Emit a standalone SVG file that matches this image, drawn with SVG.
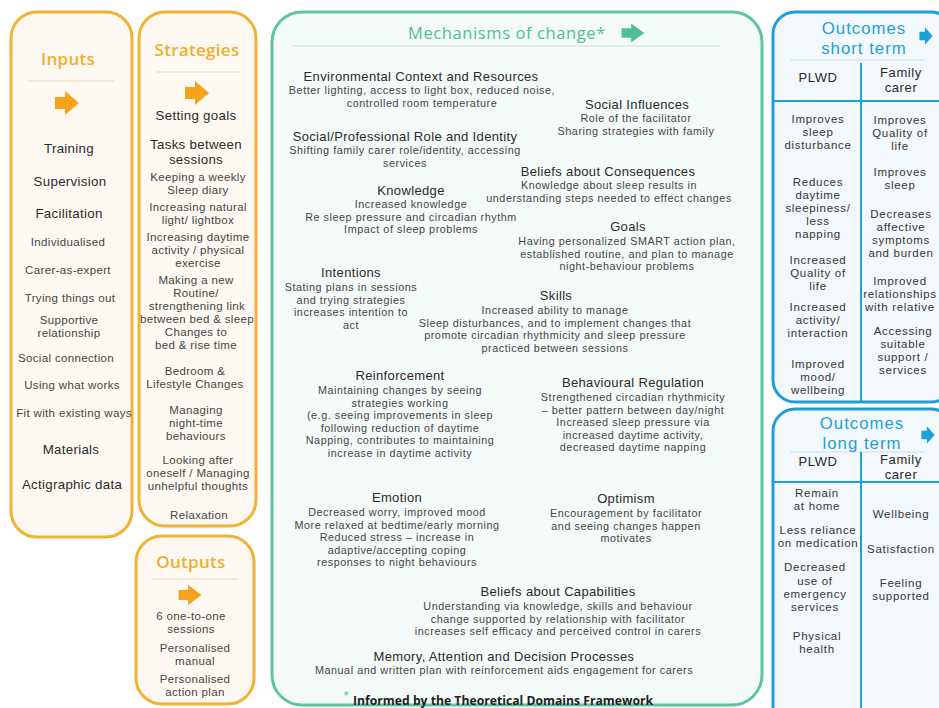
<svg xmlns="http://www.w3.org/2000/svg" width="939" height="708" viewBox="0 0 939 708">
  <defs>
    <!-- block arrow centred on 0,0 -->
    <path id="blockArrow" d="M-12,-6 H-2 V-12 L12,0 L-2,12 V6 H-12 Z"/>
    <style>
      text { font-family: "Liberation Sans", Arial, sans-serif; text-anchor: middle; dominant-baseline: central; }
      .boxO { fill: #FDF9F2; stroke: #F2B233; stroke-width: 3; }
      .boxG { fill: #F4FAF8; stroke: #5EC49F; stroke-width: 3; }
      .boxB { fill: #F2F8FC; stroke: #1E9FD8; stroke-width: 3; }
      .band { stroke-width: 2; fill: none; }
      .ttlO { font-family: "Open Sans", "Liberation Sans", sans-serif; font-size: 17px; font-weight: 600; fill: #F1AE2C; letter-spacing: 0.3px; }
      .ttlG { font-family: "Open Sans", "Liberation Sans", sans-serif; font-size: 16.5px; font-weight: 500; fill: #4FC095; letter-spacing: 0.6px; }
      .ttlB { font-size: 16.8px; fill: #1D9FDA; letter-spacing: 1px; }
      .big { font-size: 13.3px; fill: #2B2B2B; letter-spacing: 0.3px; }
      .sm { font-size: 11.5px; fill: #454545; letter-spacing: 0.35px; }
      .hd { font-size: 13px; fill: #2A2A2A; letter-spacing: 0.35px; }
      .bd { font-size: 10.8px; fill: #454545; letter-spacing: 0.55px; }
      .oc { font-size: 11.5px; fill: #363636; letter-spacing: 0.7px; }
      .ohd { font-size: 13px; fill: #2A2A2A; letter-spacing: 0.6px; }
      .note { font-family: "Open Sans", "Liberation Sans", sans-serif; font-size: 12.2px; font-weight: 700; fill: #1E1E1E; text-anchor: start; }
      .divB { stroke: #1E9FD8; stroke-width: 2; }
    </style>
  </defs>

  <rect width="939" height="708" fill="#FFFFFF"/>

  <!-- Inputs -->
  <g id="inputs">
    <rect class="boxO" x="11" y="12" width="121" height="525" rx="26"/>
    <line class="band" x1="28" y1="81" x2="114" y2="81" stroke="#F1E8D8"/>
    <text class="ttlO" x="68" y="58">Inputs</text>
    <text class="big" x="69" y="148">Training</text>
    <text class="big" x="70" y="181">Supervision</text>
    <text class="big" x="69" y="213">Facilitation</text>
    <text class="sm" x="68" y="242">Individualised</text>
    <text class="sm" x="68" y="270">Carer-as-expert</text>
    <text class="sm" x="70" y="298">Trying things out</text>
    <text class="sm" x="69" y="320">Supportive</text>
    <text class="sm" x="69" y="333">relationship</text>
    <text class="sm" x="66" y="358">Social connection</text>
    <text class="sm" x="72" y="385">Using what works</text>
    <text class="sm" x="74" y="413">Fit with existing ways</text>
    <text class="big" x="71" y="449">Materials</text>
    <text class="big" x="72" y="484">Actigraphic data</text>
  </g>

  <!-- Strategies -->
  <g id="strategies">
    <rect class="boxO" x="139" y="12" width="117" height="514" rx="26"/>
    <line class="band" x1="156" y1="72" x2="240" y2="72" stroke="#F1E8D8"/>
    <text class="ttlO" x="197" y="49">Strategies</text>
    <text class="big" x="196" y="115">Setting goals</text>
    <text class="big" x="196" y="144">Tasks between</text>
    <text class="big" x="196" y="159">sessions</text>
    <text class="sm" x="198" y="177">Keeping a weekly</text>
    <text class="sm" x="198" y="190">Sleep diary</text>
    <text class="sm" x="198" y="207">Increasing natural</text>
    <text class="sm" x="198" y="220">light/ lightbox</text>
    <text class="sm" x="198" y="237">Increasing daytime</text>
    <text class="sm" x="198" y="250">activity / physical</text>
    <text class="sm" x="198" y="263">exercise</text>
    <text class="sm" x="196" y="280">Making a new</text>
    <text class="sm" x="196" y="293">Routine/</text>
    <text class="sm" x="197" y="306">strengthening link</text>
    <text class="sm" x="197" y="319">between bed &amp; sleep</text>
    <text class="sm" x="196" y="332">Changes to</text>
    <text class="sm" x="196" y="345">bed &amp; rise time</text>
    <text class="sm" x="195" y="371">Bedroom &amp;</text>
    <text class="sm" x="195" y="384">Lifestyle Changes</text>
    <text class="sm" x="196" y="410">Managing</text>
    <text class="sm" x="196" y="423">night-time</text>
    <text class="sm" x="196" y="436">behaviours</text>
    <text class="sm" x="198" y="460">Looking after</text>
    <text class="sm" x="198" y="473">oneself / Managing</text>
    <text class="sm" x="198" y="486">unhelpful thoughts</text>
    <text class="sm" x="199" y="515">Relaxation</text>
  </g>

  <!-- Outputs -->
  <g id="outputs">
    <rect class="boxO" x="136" y="536" width="118" height="168" rx="26"/>
    <line class="band" x1="152" y1="579" x2="238" y2="579" stroke="#F1E8D8"/>
    <text class="ttlO" x="191" y="561">Outputs</text>
    <text class="sm" x="191" y="616">6 one-to-one</text>
    <text class="sm" x="191" y="629">sessions</text>
    <text class="sm" x="195" y="648">Personalised</text>
    <text class="sm" x="195" y="661">manual</text>
    <text class="sm" x="195" y="679">Personalised</text>
    <text class="sm" x="195" y="692">action plan</text>
  </g>

  <!-- Mechanisms of change -->
  <g id="mechanisms">
    <rect class="boxG" x="272" y="12" width="490" height="693" rx="30"/>
    <line class="band" x1="292" y1="46" x2="720" y2="46" stroke="#E2EDE9"/>
    <text class="ttlG" x="507" y="32">Mechanisms of change*</text>

    <text class="hd" x="421" y="76">Environmental Context and Resources</text>
    <text class="bd" x="422" y="90">Better lighting, access to light box, reduced noise,</text>
    <text class="bd" x="422" y="102.5">controlled room temperature</text>

    <text class="hd" x="637" y="104">Social Influences</text>
    <text class="bd" x="636" y="118">Role of the facilitator</text>
    <text class="bd" x="636" y="130.5">Sharing strategies with family</text>

    <text class="hd" x="405" y="136">Social/Professional  Role and Identity</text>
    <text class="bd" x="405" y="150">Shifting family carer role/identity, accessing</text>
    <text class="bd" x="405" y="162.5">services</text>

    <text class="hd" x="608" y="171">Beliefs  about Consequences</text>
    <text class="bd" x="609" y="185">Knowledge about sleep results in</text>
    <text class="bd" x="609" y="197.5">understanding  steps needed to effect changes</text>

    <text class="hd" x="411" y="190">Knowledge</text>
    <text class="bd" x="411" y="204">Increased knowledge</text>
    <text class="bd" x="411" y="216.5">Re sleep pressure and  circadian rhythm</text>
    <text class="bd" x="411" y="229">Impact of sleep problems</text>

    <text class="hd" x="628" y="226">Goals</text>
    <text class="bd" x="627" y="241">Having personalized SMART action  plan,</text>
    <text class="bd" x="627" y="253.5">established routine, and  plan to manage</text>
    <text class="bd" x="627" y="266">night-behaviour problems</text>

    <text class="hd" x="351" y="272">Intentions</text>
    <text class="bd" x="351" y="287">Stating plans in sessions</text>
    <text class="bd" x="351" y="299.5">and trying strategies</text>
    <text class="bd" x="351" y="312">increases intention to</text>
    <text class="bd" x="351" y="324.5">act</text>

    <text class="hd" x="556" y="295">Skills</text>
    <text class="bd" x="555" y="310">Increased ability to manage</text>
    <text class="bd" x="555" y="322.5">Sleep disturbances, and to implement changes that</text>
    <text class="bd" x="555" y="335">promote circadian  rhythmicity and  sleep pressure</text>
    <text class="bd" x="555" y="347.5">practiced between sessions</text>

    <text class="hd" x="400" y="375">Reinforcement</text>
    <text class="bd" x="400" y="390">Maintaining changes by seeing</text>
    <text class="bd" x="400" y="402.5">strategies working</text>
    <text class="bd" x="400" y="415">(e.g. seeing improvements in sleep</text>
    <text class="bd" x="400" y="427.5">following reduction of daytime</text>
    <text class="bd" x="400" y="440">Napping, contributes to maintaining</text>
    <text class="bd" x="400" y="452.5">increase in daytime activity</text>

    <text class="hd" x="633" y="382">Behavioural Regulation</text>
    <text class="bd" x="633" y="397">Strengthened circadian  rhythmicity</text>
    <text class="bd" x="633" y="409.5">– better pattern  between day/night</text>
    <text class="bd" x="633" y="422">Increased sleep pressure via</text>
    <text class="bd" x="633" y="434.5">increased daytime activity,</text>
    <text class="bd" x="633" y="447">decreased daytime napping</text>

    <text class="hd" x="397" y="497">Emotion</text>
    <text class="bd" x="397" y="512">Decreased worry, improved mood</text>
    <text class="bd" x="397" y="524.5">More relaxed at bedtime/early morning</text>
    <text class="bd" x="397" y="537">Reduced stress – increase in</text>
    <text class="bd" x="397" y="549.5">adaptive/accepting coping</text>
    <text class="bd" x="397" y="562">responses to night behaviours</text>

    <text class="hd" x="626" y="498">Optimism</text>
    <text class="bd" x="626" y="513">Encouragement by facilitator</text>
    <text class="bd" x="626" y="525.5">and seeing changes happen</text>
    <text class="bd" x="626" y="538">motivates</text>

    <text class="hd" x="558" y="591">Beliefs  about Capabilities</text>
    <text class="bd" x="558" y="606">Understanding via knowledge, skills and behaviour</text>
    <text class="bd" x="558" y="618.5">change supported  by relationship with facilitator</text>
    <text class="bd" x="558" y="631">increases self efficacy and perceived control in carers</text>

    <text class="hd" x="504" y="656">Memory, Attention and Decision Processes</text>
    <text class="bd" x="504" y="670">Manual and written plan with reinforcement aids engagement for carers</text>

    <text x="346" y="695" style="font-size:13px;fill:#4FC095;">*</text>
    <text class="note" x="353" y="700">Informed by the Theoretical Domains Framework</text>
  </g>

  <!-- Outcomes short term -->
  <g id="outcomes-short">
    <rect class="boxB" x="773" y="12" width="180" height="390" rx="22"/>
    <line class="band" x1="790" y1="60" x2="925" y2="60" stroke="#E1ECF2"/>
    <text class="ttlB" x="864" y="28.5">Outcomes</text>
    <text class="ttlB" x="864" y="48">short term</text>
    <line class="divB" x1="861" y1="63" x2="861" y2="402"/>
    <line class="divB" x1="773" y1="101" x2="939" y2="101"/>
    <text class="ohd" x="818" y="77">PLWD</text>
    <text class="ohd" x="901" y="72">Family</text>
    <text class="ohd" x="901" y="87">carer</text>

    <text class="oc" x="818" y="119">Improves</text>
    <text class="oc" x="818" y="132">sleep</text>
    <text class="oc" x="818" y="145">disturbance</text>
    <text class="oc" x="818" y="182">Reduces</text>
    <text class="oc" x="818" y="195">daytime</text>
    <text class="oc" x="818" y="208">sleepiness/</text>
    <text class="oc" x="818" y="221">less</text>
    <text class="oc" x="818" y="234">napping</text>
    <text class="oc" x="818" y="260">Increased</text>
    <text class="oc" x="818" y="273">Quality of</text>
    <text class="oc" x="818" y="286">life</text>
    <text class="oc" x="818" y="307">Increased</text>
    <text class="oc" x="818" y="320">activity/</text>
    <text class="oc" x="818" y="333">interaction</text>
    <text class="oc" x="818" y="364">Improved</text>
    <text class="oc" x="818" y="377">mood/</text>
    <text class="oc" x="818" y="390">wellbeing</text>

    <text class="oc" x="900" y="120">Improves</text>
    <text class="oc" x="900" y="133">Quality of</text>
    <text class="oc" x="900" y="146">life</text>
    <text class="oc" x="900" y="172">Improves</text>
    <text class="oc" x="900" y="185">sleep</text>
    <text class="oc" x="901" y="214">Decreases</text>
    <text class="oc" x="901" y="227">affective</text>
    <text class="oc" x="901" y="240">symptoms</text>
    <text class="oc" x="901" y="253">and burden</text>
    <text class="oc" x="900" y="281">Improved</text>
    <text class="oc" x="900" y="294">relationships</text>
    <text class="oc" x="900" y="307">with relative</text>
    <text class="oc" x="903" y="331">Accessing</text>
    <text class="oc" x="903" y="344">suitable</text>
    <text class="oc" x="903" y="357">support /</text>
    <text class="oc" x="903" y="370">services</text>
  </g>

  <!-- Outcomes long term -->
  <g id="outcomes-long">
    <rect class="boxB" x="773" y="409" width="180" height="320" rx="22"/>
    <line class="band" x1="790" y1="452" x2="925" y2="452" stroke="#E1ECF2"/>
    <text class="ttlB" x="862" y="423.5">Outcomes</text>
    <text class="ttlB" x="862" y="443">long term</text>
    <line class="divB" x1="861" y1="452" x2="861" y2="708"/>
    <line class="divB" x1="773" y1="482" x2="939" y2="482"/>
    <text class="ohd" x="818" y="461">PLWD</text>
    <text class="ohd" x="901" y="459">Family</text>
    <text class="ohd" x="901" y="474">carer</text>

    <text class="oc" x="817" y="493">Remain</text>
    <text class="oc" x="817" y="506">at home</text>
    <text class="oc" x="818" y="530">Less reliance</text>
    <text class="oc" x="818" y="543">on medication</text>
    <text class="oc" x="815" y="567">Decreased</text>
    <text class="oc" x="815" y="581">use of</text>
    <text class="oc" x="815" y="594">emergency</text>
    <text class="oc" x="815" y="607">services</text>
    <text class="oc" x="817" y="636">Physical</text>
    <text class="oc" x="817" y="649">health</text>

    <text class="oc" x="901" y="514">Wellbeing</text>
    <text class="oc" x="901" y="549">Satisfaction</text>
    <text class="oc" x="901" y="583">Feeling</text>
    <text class="oc" x="901" y="596">supported</text>
  </g>

  <!-- flow arrows between stages -->
  <g id="connectors">
    <use href="#blockArrow" transform="translate(67,103)" fill="#F5A31C"/>
    <use href="#blockArrow" transform="translate(197,93)" fill="#F5A31C"/>
    <use href="#blockArrow" transform="translate(190,595) scale(0.95,0.85)" fill="#F5A31C"/>
    <use href="#blockArrow" transform="translate(633,33) scale(0.95,0.8)" fill="#4FC095"/>
    <use href="#blockArrow" transform="translate(926,36) scale(0.55,0.72)" fill="#1D9FDA"/>
    <use href="#blockArrow" transform="translate(928,435) scale(0.55,0.72)" fill="#1D9FDA"/>
  </g>
</svg>
